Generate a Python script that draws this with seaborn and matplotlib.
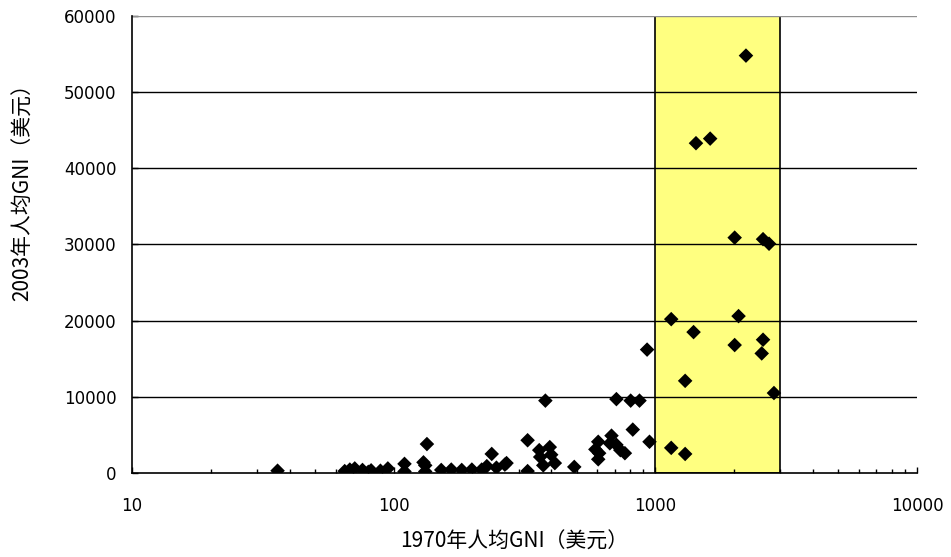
import numpy as np
import pandas as pd
import seaborn as sns
import matplotlib.pyplot as plt
from matplotlib.ticker import LogLocator, FixedLocator, NullFormatter

# 1970 per-capita GNI (USD), log axis
gni_1970 = [36, 65, 68, 71, 76, 80, 82, 89, 95,
            110, 110, 130, 132, 132, 134,
            152, 166, 182, 199, 217, 227, 237, 247, 266, 270,
            325, 325, 360, 363, 373, 380, 395, 400, 413, 490,
            590, 605, 605, 610, 670, 680, 710, 710, 735, 765,
            805, 820, 870, 930, 950,
            1150, 1150, 1300, 1300, 1400, 1430, 1620,
            2010, 2010, 2080, 2220, 2550, 2580, 2580, 2720, 2840]
# 2003 per-capita GNI (USD)
gni_2003 = [300, 250, 450, 600, 400, 150, 350, 300, 600,
            1200, 200, 1400, 1000, 200, 3800,
            400, 450, 400, 450, 450, 900, 2500, 700, 1100, 1300,
            4300, 250, 3000, 2100, 1000, 9500, 3400, 2400, 1300, 800,
            3100, 4100, 1800, 2600, 3900, 4900, 3700, 9700, 3000, 2600,
            9500, 5700, 9500, 16200, 4100,
            20200, 3300, 2500, 12100, 18500, 43300, 43900,
            30900, 16800, 20600, 54800, 15700, 30700, 17500, 30100, 10500]

band_lo, band_hi = 1000, 3000
y_ticks = [0, 10000, 20000, 30000, 40000, 50000, 60000]
x_ticks = [10, 100, 1000, 10000]
x_label = "1970年人均GNI（美元）"
y_label = "2003年人均GNI（美元）"

df = pd.DataFrame({"x": gni_1970, "y": gni_2003})

sns.set_style("white")
plt.rcParams['font.family'] = ['DejaVu Sans']
plt.rcParams['text.color'] = 'black'
plt.rcParams['axes.labelcolor'] = 'black'
plt.rcParams['xtick.color'] = 'black'
plt.rcParams['ytick.color'] = 'black'
cjk = ["Noto Sans CJK SC", "DejaVu Sans"]

fig = plt.figure(figsize=(9.51, 5.57), dpi=100)
ax = fig.add_axes([132 / 951, 1 - 473 / 557, (917 - 132) / 951, (473 - 16) / 557])

ax.set_xscale("log")
ax.set_xlim(10, 10000)
ax.set_ylim(0, 60000)

ax.axvspan(band_lo, band_hi, facecolor="#FFFF80", edgecolor="black", lw=1.2, zorder=0)
for yv in y_ticks[1:-1]:
    ax.axhline(yv, color="black", lw=1.0, zorder=1)
ax.axhline(y_ticks[-1], color="#909090", lw=1.0, zorder=1)

sns.scatterplot(data=df, x="x", y="y", ax=ax, marker="D", color="black",
                s=55, edgecolor="none", zorder=3, legend=False)

ax.xaxis.set_major_locator(FixedLocator(x_ticks))
ax.xaxis.set_minor_locator(LogLocator(base=10, subs=np.arange(2, 10)))
ax.xaxis.set_minor_formatter(NullFormatter())
ax.set_xticklabels([str(v) for v in x_ticks])
ax.set_yticks(y_ticks)
ax.set_yticklabels([str(v) for v in y_ticks])
ax.tick_params(axis="both", which="major", direction="in", length=4, width=1,
               color="black", labelcolor="black", labelsize=12, bottom=True, left=True)
ax.tick_params(axis="x", which="minor", direction="in", length=3, width=1,
               color="black", bottom=True)
ax.tick_params(axis="x", which="major", pad=17)
ax.tick_params(axis="y", which="major", pad=11)

for side in ["top", "right"]:
    ax.spines[side].set_visible(False)
for side in ["left", "bottom"]:
    ax.spines[side].set_color("black")
    ax.spines[side].set_linewidth(1.2)

ax.set_xlabel(x_label, family=cjk, fontsize=15, va="center", color="black")
ax.xaxis.set_label_coords((514 - 132) / 785, (473 - 542) / 457)
ax.set_ylabel(y_label, family=cjk, fontsize=15, va="center", color="black")
ax.yaxis.set_label_coords((23 - 132) / 785, (473 - 187) / 457)

fig.savefig("out.png", dpi=100)
